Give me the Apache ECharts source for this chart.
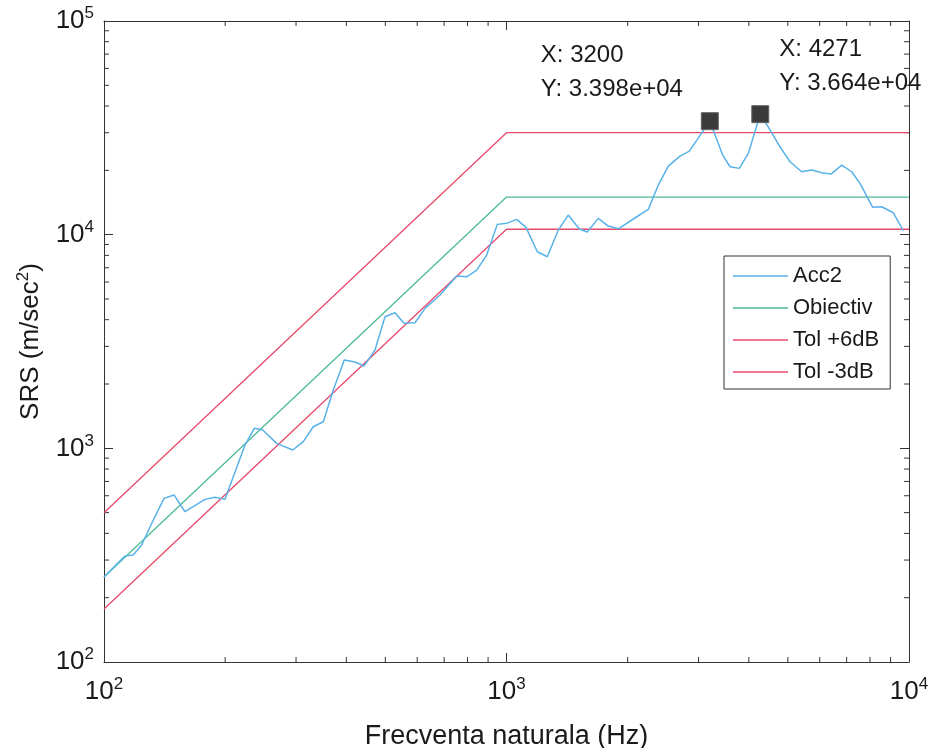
<!DOCTYPE html>
<html lang="ro">
<head>
    <meta charset="UTF-8">
    <title>SRS Acc2</title>
    <script type="text/javascript" src="https://cdn.jsdelivr.net/npm/echarts@6/dist/echarts.min.js"></script>
    <style>
        body{
            margin: 0;
            background: #fff;
        }
        #chart{
            width: 929px;
            height: 748px;
        }
    </style>
</head>
<body>
<div id="chart"></div>
<script>
    // Acc2 - raspunsul masurat (frecventa, SRS)
    const accFreq = [100, 112.7, 118.2, 124, 132.6, 141, 149.3, 158.9, 178.2, 188.7, 199.8, 224, 236.3, 248, 268.5,
        294.4, 312.7, 331, 350.7, 371.2, 395.4, 420.3, 442.6, 471.3, 499, 528.4, 556.4, 592.5, 627.4, 683.6,
        752, 796.5, 843.3, 893, 948.7, 1001, 1060, 1118, 1193, 1263, 1345, 1424, 1517, 1588, 1691, 1790,
        1896, 2107, 2251, 2383, 2523, 2698, 2846, 3200, 3444, 3593, 3788, 3988, 4271, 4488, 4781, 5062,
        5413, 5732, 6069, 6401, 6804, 7204, 7556, 8124, 8553, 9142, 9681];
    const accVal = [250, 313, 317, 353, 462, 583, 605, 505, 577, 590, 577, 1036, 1241, 1218, 1055,
        982, 1074, 1262, 1332, 1874, 2589, 2534, 2427, 2884, 4128, 4311, 3846, 3871, 4520, 5217,
        6402, 6353, 6830, 8026, 11173, 11295, 11792, 10819, 8318, 7880, 10508, 12350, 10622, 10285, 11921, 10970,
        10657, 12130, 13130, 17070, 20940, 23320, 24620, 33980, 23580, 20790, 20430, 24010, 36640, 31540, 25780, 21940,
        19700, 20060, 19490, 19210, 21170, 19700, 17390, 13420, 13510, 12660, 10430];

    // profilul impus si tolerantele
    const specFreq = [100, 1000, 10000];
    const obiectiv = [250, 15000, 15000];
    const tolPlus6 = [500, 30000, 30000];
    const tolMinus3 = [177, 10600, 10600];

    // data tips
    const tipX = [3200, 4271];
    const tipY = [33980, 36640];
    const tipText = ['X: 3200\nY: 3.398e+04', 'X: 4271\nY: 3.664e+04'];

    // ticks
    const minorX = [200, 300, 400, 500, 600, 700, 800, 900, 2000, 3000, 4000, 5000, 6000, 7000, 8000, 9000];
    const minorY = [200, 300, 400, 500, 600, 700, 800, 900, 2000, 3000, 4000, 5000, 6000, 7000, 8000, 9000,
        20000, 30000, 40000, 50000, 60000, 70000, 80000, 90000];

    const FONT = 'Liberation Sans, Arial, Helvetica, sans-serif';
    const AX = '#333';
    const TXT = '#1a1a1a';

    function pairs(xs, ys) {
        return xs.map((x, i) => [x, ys[i]]);
    }

    // 10^n cu exponent
    function powLabel(v) {
        const e = Math.round(Math.log10(v));
        return '{b|10}{s|' + e + '}';
    }
    const powRich = {
        b: {fontSize: 26, lineHeight: 32, fontFamily: FONT, color: TXT},
        s: {fontSize: 17, lineHeight: 32, fontFamily: FONT, color: TXT, verticalAlign: 'top', padding: [0, 0, 14, 0]}
    };

    const chart = echarts.init(document.getElementById('chart'));

    const logX = {type: 'log', logBase: 10, min: 100, max: 10000};
    const logY = {type: 'log', logBase: 10, min: 100, max: 100000};

    const option = {
        animation: false,
        backgroundColor: '#fff',
        grid: {left: 104, right: 20, top: 21, bottom: 86, outerBoundsMode: 'none', containLabel: false},
        legend: {
            data: ['Acc2', 'Obiectiv', 'Tol +6dB', 'Tol -3dB'],
            orient: 'vertical',
            left: 724,
            top: 256,
            backgroundColor: '#fff',
            borderColor: '#333',
            borderWidth: 1,
            borderRadius: 0,
            padding: [9, 11, 6, 9],
            icon: 'rect',
            itemWidth: 55,
            itemHeight: 1.5,
            itemGap: 10,
            textStyle: {fontSize: 22, lineHeight: 22, fontFamily: FONT, color: TXT}
        },
        xAxis: [
            Object.assign({}, logX, {
                position: 'bottom',
                name: 'Frecventa naturala (Hz)',
                nameLocation: 'middle',
                nameGap: 61,
                nameTextStyle: {fontSize: 27, fontFamily: FONT, color: TXT},
                axisLine: {show: true, lineStyle: {color: AX, width: 1}},
                axisTick: {show: true, inside: true, length: 9, lineStyle: {color: AX}},
                axisLabel: {margin: 14, formatter: powLabel, rich: powRich},
                splitLine: {show: false}
            }),
            Object.assign({}, logX, {
                position: 'top',
                axisLine: {show: true, onZero: false, lineStyle: {color: AX, width: 1}},
                axisTick: {show: true, inside: true, length: 9, lineStyle: {color: AX}},
                axisLabel: {show: false},
                splitLine: {show: false}
            })
        ],
        yAxis: [
            Object.assign({}, logY, {
                position: 'left',
                name: 'SRS (m/sec{s|2})',
                nameLocation: 'middle',
                nameGap: 58,
                nameRotate: 90,
                nameTextStyle: {
                    fontSize: 26, fontFamily: FONT, color: TXT,
                    rich: {s: {fontSize: 17, fontFamily: FONT, color: TXT, verticalAlign: 'top', padding: [0, 0, 14, 0]}}
                },
                axisLine: {show: true, lineStyle: {color: AX, width: 1}},
                axisTick: {show: true, inside: true, length: 9, lineStyle: {color: AX}},
                axisLabel: {margin: 10, formatter: powLabel, rich: powRich},
                splitLine: {show: false}
            }),
            Object.assign({}, logY, {
                position: 'right',
                axisLine: {show: true, onZero: false, lineStyle: {color: AX, width: 1}},
                axisTick: {show: true, inside: true, length: 9, lineStyle: {color: AX}},
                axisLabel: {show: false},
                splitLine: {show: false}
            })
        ],
        series: [
            {
                name: 'Tol +6dB',
                type: 'line',
                symbol: 'none',
                data: pairs(specFreq, tolPlus6),
                lineStyle: {color: '#e8496a', width: 1.3},
                itemStyle: {color: '#e8496a'}
            },
            {
                name: 'Tol -3dB',
                type: 'line',
                symbol: 'none',
                data: pairs(specFreq, tolMinus3),
                lineStyle: {color: '#e8496a', width: 1.3},
                itemStyle: {color: '#e8496a'}
            },
            {
                name: 'Obiectiv',
                type: 'line',
                symbol: 'none',
                data: pairs(specFreq, obiectiv),
                lineStyle: {color: '#4dbb95', width: 1.3},
                itemStyle: {color: '#4dbb95'}
            },
            {
                name: 'Acc2',
                type: 'line',
                symbol: 'none',
                data: pairs(accFreq, accVal),
                lineStyle: {color: '#58b2e8', width: 1.5},
                itemStyle: {color: '#58b2e8'},
                z: 3
            },
            {
                // marcajele data tip
                name: 'tips',
                type: 'scatter',
                symbol: 'rect',
                symbolSize: 17,
                z: 5,
                itemStyle: {color: '#3a3a3a', borderColor: '#666', borderWidth: 1, opacity: 1},
                label: {
                    show: true,
                    align: 'left',
                    verticalAlign: 'top',
                    fontSize: 24,
                    lineHeight: 34,
                    fontFamily: FONT,
                    color: TXT,
                    opacity: 1,
                    formatter: p => tipText[p.dataIndex]
                },
                data: [
                    {value: [tipX[0], tipY[0]], label: {position: [-160, -74]}},
                    {value: [tipX[1], tipY[1]], label: {position: [28, -73]}}
                ]
            },
            {
                // minor ticks x (jos si sus)
                type: 'custom',
                silent: true,
                data: minorX.map(v => [v, 100]),
                renderItem: function (params, api) {
                    const v = api.value(0);
                    const b = api.coord([v, 100]);
                    const t = api.coord([v, 100000]);
                    const st = {stroke: AX, lineWidth: 1};
                    return {
                        type: 'group',
                        children: [
                            {type: 'line', shape: {x1: b[0], y1: b[1], x2: b[0], y2: b[1] - 5}, style: st},
                            {type: 'line', shape: {x1: t[0], y1: t[1], x2: t[0], y2: t[1] + 5}, style: st}
                        ]
                    };
                }
            },
            {
                // minor ticks y (stanga si dreapta)
                type: 'custom',
                silent: true,
                data: minorY.map(v => [100, v]),
                renderItem: function (params, api) {
                    const v = api.value(1);
                    const l = api.coord([100, v]);
                    const r = api.coord([10000, v]);
                    const st = {stroke: AX, lineWidth: 1};
                    return {
                        type: 'group',
                        children: [
                            {type: 'line', shape: {x1: l[0], y1: l[1], x2: l[0] + 5, y2: l[1]}, style: st},
                            {type: 'line', shape: {x1: r[0], y1: r[1], x2: r[0] - 5, y2: r[1]}, style: st}
                        ]
                    };
                }
            }
        ]
    };

    chart.setOption(option);
</script>
</body>
</html>
